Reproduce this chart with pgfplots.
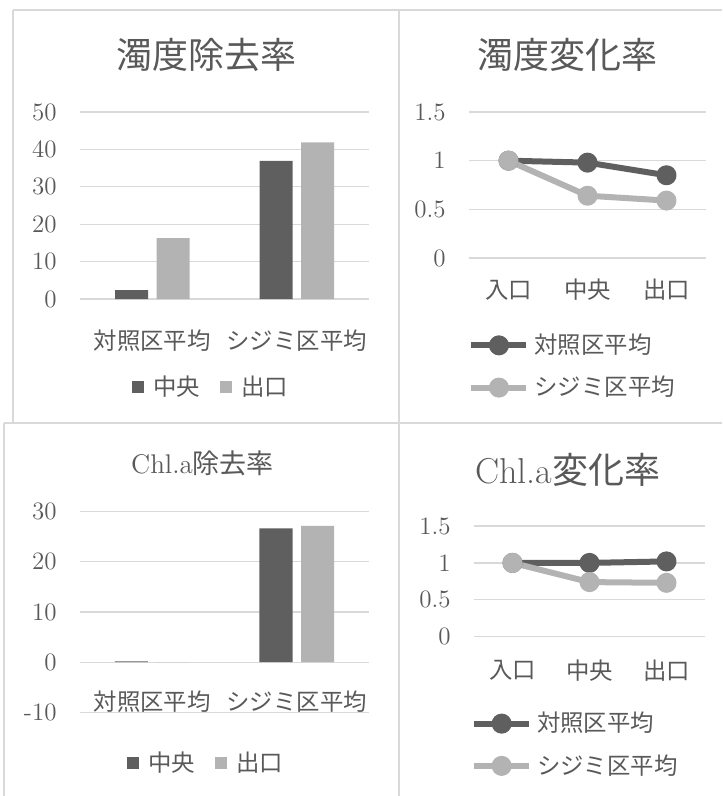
\documentclass[border=0pt]{standalone}
\usepackage{fontspec}
\usepackage{pgfplots}
\pgfplotsset{compat=1.18}
\newfontfamily\jp{Noto Sans CJK JP}
\definecolor{dark}{HTML}{5F5F5F}
\definecolor{light}{HTML}{B3B3B3}
\definecolor{gridc}{HTML}{D9D9D9}
\definecolor{txt}{HTML}{595959}

\pgfplotsset{
  panel/.style={
    scale only axis,
    clip=false,
    axis line style={draw=none},
    tick style={draw=none},
    ymajorgrids,
    grid style={gridc, line width=0.6pt},
    /pgf/number format/assume math mode=true,
    yticklabel style={anchor=east, inner sep=0pt, xshift=-11.5pt,
      font=\fontsize{12.5}{13}\selectfont, text=txt},
    xticklabel style={anchor=center, inner sep=0pt,
      font=\fontsize{11.7}{12}\selectfont\jp, text=txt},
    legend style={draw=none, fill=none, inner sep=0pt,
      font=\fontsize{11.7}{12}\selectfont\jp, text=txt,
      nodes={inner sep=0pt}},
    legend cell align=left,
    every axis title shift=0pt,
    title style={anchor=center, text=txt, inner sep=0pt},
  },
  barpanel/.style={
    panel,
    ybar=4.25pt, bar width=16.5pt,
    xmin=-0.5, xmax=1.5, xtick={0,1},
    xticklabels={対照区平均,シジミ区平均},
    legend columns=2,
    legend image code/.code={\fill[##1] (0pt,-3pt) rectangle (6pt,3pt);},
    legend style={/tikz/every odd column/.append style={column sep=4.5pt},
      /tikz/every even column/.append style={column sep=10pt}},
  },
  linepanel/.style={
    panel,
    xmin=-0.5, xmax=2.5, xtick={0,1,2},
    xticklabels={入口,中央,出口},
    ymin=0, ymax=1.5, ytick={0,0.5,1,1.5},
    legend image code/.code={\draw[mark repeat=2,mark phase=2,##1]
      plot coordinates {(0pt,0pt) (13.75pt,0pt) (27.5pt,0pt)};},
    legend style={row sep=9.8pt,
      /tikz/every odd column/.append style={column sep=2.5pt}},
  },
  darkline/.style={dark, line width=3pt, line join=round, mark=*,
    mark size=3.5pt, mark options={fill=dark, draw=none}},
  lightline/.style={light, line width=3pt, line join=round, mark=*,
    mark size=3.5pt, mark options={fill=light, draw=none}},
}

\begin{document}
\begin{tikzpicture}
\useasboundingbox (0pt,0pt) rectangle (361pt,-398pt);

% panel frames
\begin{scope}[gridc, line width=1pt]
  \draw (6.5pt,-5pt) -- (361pt,-5pt);
  \draw (6.5pt,-5pt) -- (6.5pt,-211.5pt);
  \draw (199.5pt,-5pt) -- (199.5pt,-398pt);
  \draw (2pt,-211.5pt) -- (361pt,-211.5pt);
  \draw (2pt,-211.5pt) -- (2pt,-398pt);
\end{scope}

% turbidity removal rate
\begin{axis}[barpanel,
  at={(40pt,-149.5pt)}, anchor=south west,
  width=144.5pt, height=93.5pt,
  ymin=0, ymax=50, ytick={0,10,20,30,40,50},
  xticklabel style={yshift=-16.5pt},
  title={\fontsize{18}{20}\selectfont\jp 濁度除去率},
  title style={at={(0.436,1.305)}},
  legend style={at={(0.45,-0.47)}, anchor=center},
]
\addplot[fill=dark, draw=none] coordinates {(0,2.4) (1,36.9)};
\addplot[fill=light, draw=none] coordinates {(0,16.3) (1,41.9)};
\legend{中央,出口}
\end{axis}

% turbidity change rate
\begin{axis}[linepanel,
  at={(234.5pt,-129pt)}, anchor=south west,
  width=118.5pt, height=73pt,
  xticklabel style={yshift=-16pt},
  title={\fontsize{18}{20}\selectfont\jp 濁度変化率},
  title style={at={(0.414,1.39)}},
  legend style={at={(-0.004,-0.743)}, anchor=west},
]
\addplot[darkline] coordinates {(0,1.0) (1,0.98) (2,0.85)};
\addplot[lightline] coordinates {(0,1.0) (1,0.64) (2,0.59)};
\legend{対照区平均,シジミ区平均}
\end{axis}

% Chl.a removal rate
\begin{axis}[barpanel,
  at={(40pt,-356.15pt)}, anchor=south west,
  width=144.5pt, height=100.3pt,
  ymin=-10, ymax=30, ytick={-10,0,10,20,30},
  xticklabel style={yshift=9.65pt},
  title={\fontsize{13.5}{15}\selectfont Chl.a{\jp 除去率}},
  title style={at={(0.424,1.243)}},
  legend style={at={(0.433,-0.253)}, anchor=center},
]
\addplot[fill=dark, draw=none] coordinates {(0,0.15) (1,26.7)};
\addplot[fill=light, draw=none] coordinates {(0,0) (1,27.2)};
\legend{中央,出口}
\end{axis}

% Chl.a change rate
\begin{axis}[linepanel,
  at={(237pt,-318.35pt)}, anchor=south west,
  width=115.5pt, height=55.35pt,
  xticklabel style={yshift=-17pt},
  title={\fontsize{18}{20}\selectfont Chl.a{\jp 変化率}},
  title style={at={(0.407,1.506)}},
  legend style={at={(-0.014,-0.976)}, anchor=west},
]
\addplot[darkline] coordinates {(0,1.0) (1,1.0) (2,1.02)};
\addplot[lightline] coordinates {(0,1.0) (1,0.74) (2,0.73)};
\legend{対照区平均,シジミ区平均}
\end{axis}
\end{tikzpicture}
\end{document}
